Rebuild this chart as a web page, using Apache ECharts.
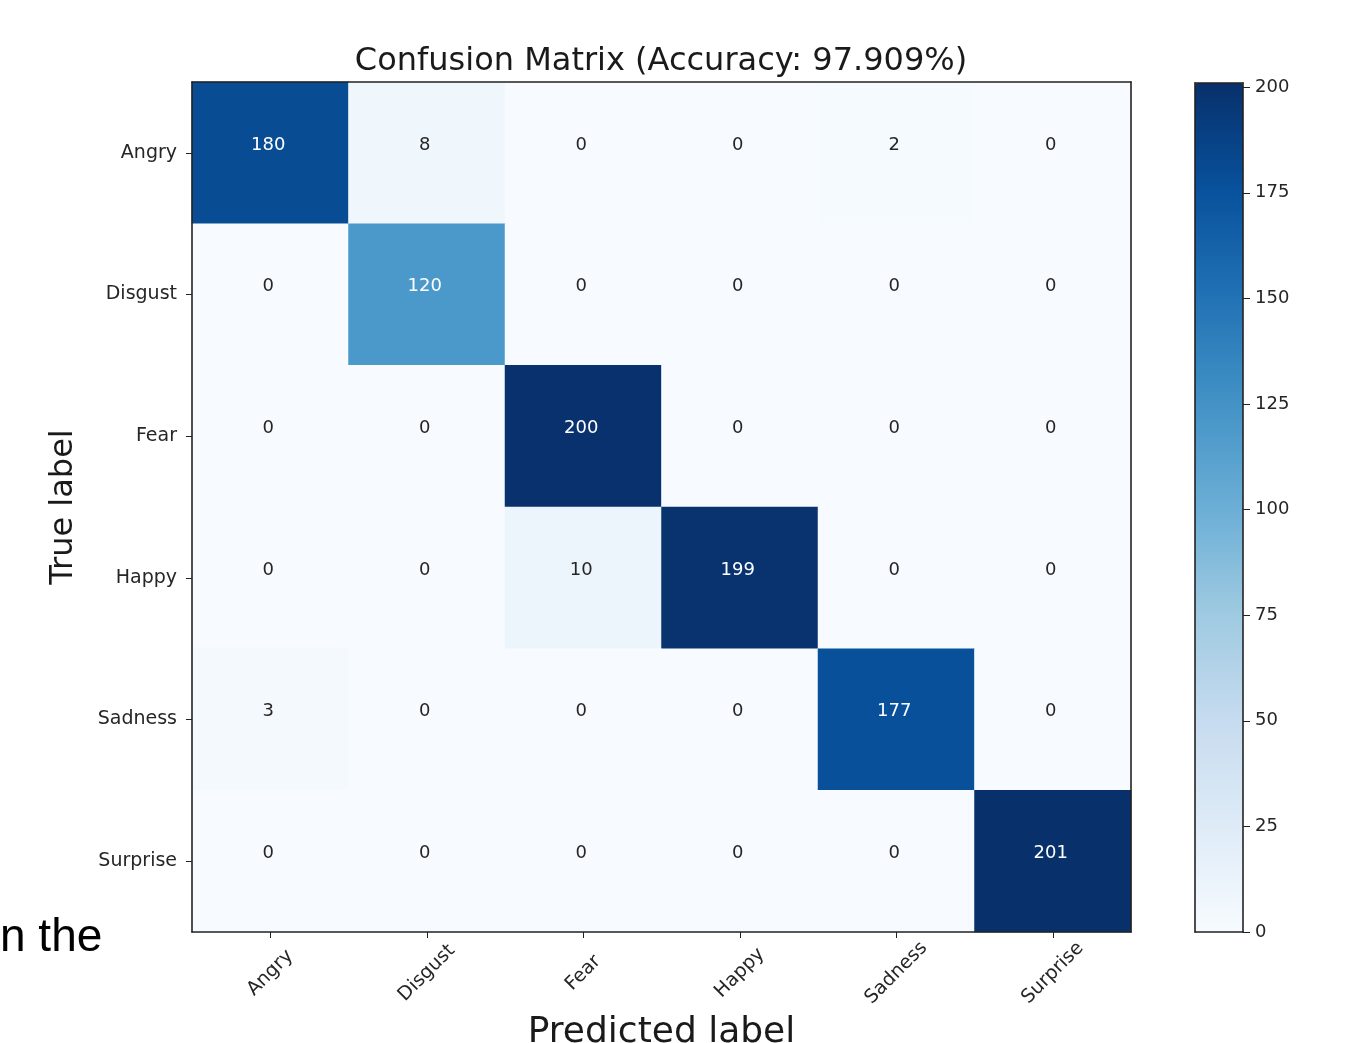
<!DOCTYPE html>
<html>
<head>
<meta charset="utf-8">
<script src="https://cdn.jsdelivr.net/npm/echarts@6/dist/echarts.min.js"></script>
<style>
html,body{margin:0;padding:0;background:#fff;}
#chart{width:1349px;height:1043px;}
</style>
</head>
<body>
<div id="chart"></div>
<script>
const predictedLabels = ['Angry', 'Disgust', 'Fear', 'Happy', 'Sadness', 'Surprise'];
const trueLabels = ['Angry', 'Disgust', 'Fear', 'Happy', 'Sadness', 'Surprise'];
const rowAngry    = [180, 8, 0, 0, 2, 0];
const rowDisgust  = [0, 120, 0, 0, 0, 0];
const rowFear     = [0, 0, 200, 0, 0, 0];
const rowHappy    = [0, 0, 10, 199, 0, 0];
const rowSadness  = [3, 0, 0, 0, 177, 0];
const rowSurprise = [0, 0, 0, 0, 0, 201];
const colorbarTicks = [0, 25, 50, 75, 100, 125, 150, 175, 200];
const titleText = 'Confusion Matrix (Accuracy: 97.909%)';

const rows = [rowAngry, rowDisgust, rowFear, rowHappy, rowSadness, rowSurprise];
let maxVal = 0;
rows.forEach(r => r.forEach(v => { if (v > maxVal) maxVal = v; }));
const thresh = maxVal / 2;
const data = [];
rows.forEach((r, yi) => r.forEach((v, xi) => {
  data.push({ value: [xi, yi, v], label: { color: v > thresh ? '#ffffff' : '#262626' } });
}));

const FONT = 'DejaVu Sans';
const blues = ['#f7fbff', '#deebf7', '#c6dbef', '#9ecae1', '#6baed6', '#4292c6', '#2171b5', '#08519c', '#08306b'];
const LINE = { color: '#222', width: 1.6 };

const chart = echarts.init(document.getElementById('chart'));
chart.setOption({
  backgroundColor: '#ffffff',
  animation: false,
  title: {
    text: titleText,
    left: 656,
    textAlign: 'center',
    top: 41,
    textStyle: { fontFamily: FONT, fontSize: 32, fontWeight: 'normal', color: '#1a1a1a' }
  },
  graphic: [{
    type: 'text',
    left: 0,
    top: 915,
    style: { text: 'n the', font: '46px "Liberation Sans", Arial, sans-serif', fill: '#000' }
  }],
  grid: [
    { left: 192, top: 82, width: 939, height: 850, outerBoundsMode: 'none', containLabel: false },
    { left: 1195, top: 83, width: 48, height: 849, outerBoundsMode: 'none', containLabel: false }
  ],
  xAxis: [
    {
      type: 'category', gridIndex: 0, data: predictedLabels, position: 'bottom', z: 5,
      axisLine: { show: true, onZero: false, lineStyle: LINE },
      axisTick: { show: true, alignWithLabel: true, length: 6, lineStyle: { color: '#222' } },
      axisLabel: { rotate: 45, align: 'center', verticalAlign: 'middle', margin: 41, interval: 0,
        fontFamily: FONT, fontSize: 19, color: '#262626' },
      splitLine: { show: false },
      name: 'Predicted label', nameLocation: 'middle', nameGap: 80,
      nameTextStyle: { fontFamily: FONT, fontSize: 36, color: '#1a1a1a' }
    },
    {
      type: 'category', gridIndex: 0, data: predictedLabels, position: 'top', z: 5,
      axisLine: { show: true, onZero: false, lineStyle: LINE },
      axisTick: { show: false }, axisLabel: { show: false }, splitLine: { show: false }
    },
    {
      type: 'value', gridIndex: 1, min: 0, max: 1, position: 'bottom', z: 10,
      axisLine: { show: true, onZero: false, lineStyle: LINE },
      axisTick: { show: false }, axisLabel: { show: false }, splitLine: { show: false }
    },
    {
      type: 'value', gridIndex: 1, min: 0, max: 1, position: 'top', z: 10,
      axisLine: { show: true, onZero: false, lineStyle: LINE },
      axisTick: { show: false }, axisLabel: { show: false }, splitLine: { show: false }
    }
  ],
  yAxis: [
    {
      type: 'category', gridIndex: 0, data: trueLabels, inverse: true, position: 'left', z: 5,
      axisLine: { show: true, onZero: false, lineStyle: LINE },
      axisTick: { show: true, alignWithLabel: true, length: 6, lineStyle: { color: '#222' } },
      axisLabel: { margin: 15, fontFamily: FONT, fontSize: 19, color: '#262626' },
      splitLine: { show: false },
      name: 'True label', nameLocation: 'middle', nameGap: 112, nameRotate: 90,
      nameTextStyle: { fontFamily: FONT, fontSize: 32, color: '#1a1a1a' }
    },
    {
      type: 'category', gridIndex: 0, data: trueLabels, inverse: true, position: 'right', z: 5,
      axisLine: { show: true, onZero: false, lineStyle: LINE },
      axisTick: { show: false }, axisLabel: { show: false }, splitLine: { show: false }
    },
    {
      type: 'value', gridIndex: 1, min: 0, max: maxVal, position: 'right', z: 10,
      axisLine: { show: true, onZero: false, lineStyle: LINE },
      axisTick: { show: true, length: 7, customValues: colorbarTicks, lineStyle: { color: '#222' } },
      axisLabel: { show: true, customValues: colorbarTicks, margin: 12, fontFamily: FONT, fontSize: 18, color: '#262626' },
      splitLine: { show: false }
    },
    {
      type: 'value', gridIndex: 1, min: 0, max: maxVal, position: 'left', z: 10,
      axisLine: { show: true, onZero: false, lineStyle: LINE },
      axisTick: { show: false }, axisLabel: { show: false }, splitLine: { show: false }
    }
  ],
  visualMap: {
    type: 'continuous',
    min: 0,
    max: maxVal,
    dimension: 2,
    seriesIndex: 0,
    calculable: false,
    showLabel: false,
    text: ['', ''],
    orient: 'vertical',
    left: 1195,
    top: 83,
    padding: 0,
    itemWidth: 48,
    itemHeight: 849,
    z: 1,
    inRange: { color: blues }
  },
  series: [{
    type: 'heatmap',
    xAxisIndex: 0,
    yAxisIndex: 0,
    data: data,
    label: { show: true, fontFamily: FONT, fontSize: 18, offset: [-2, -8] },
    itemStyle: { borderWidth: 0 },
    emphasis: { disabled: true }
  }]
});
</script>
</body>
</html>
